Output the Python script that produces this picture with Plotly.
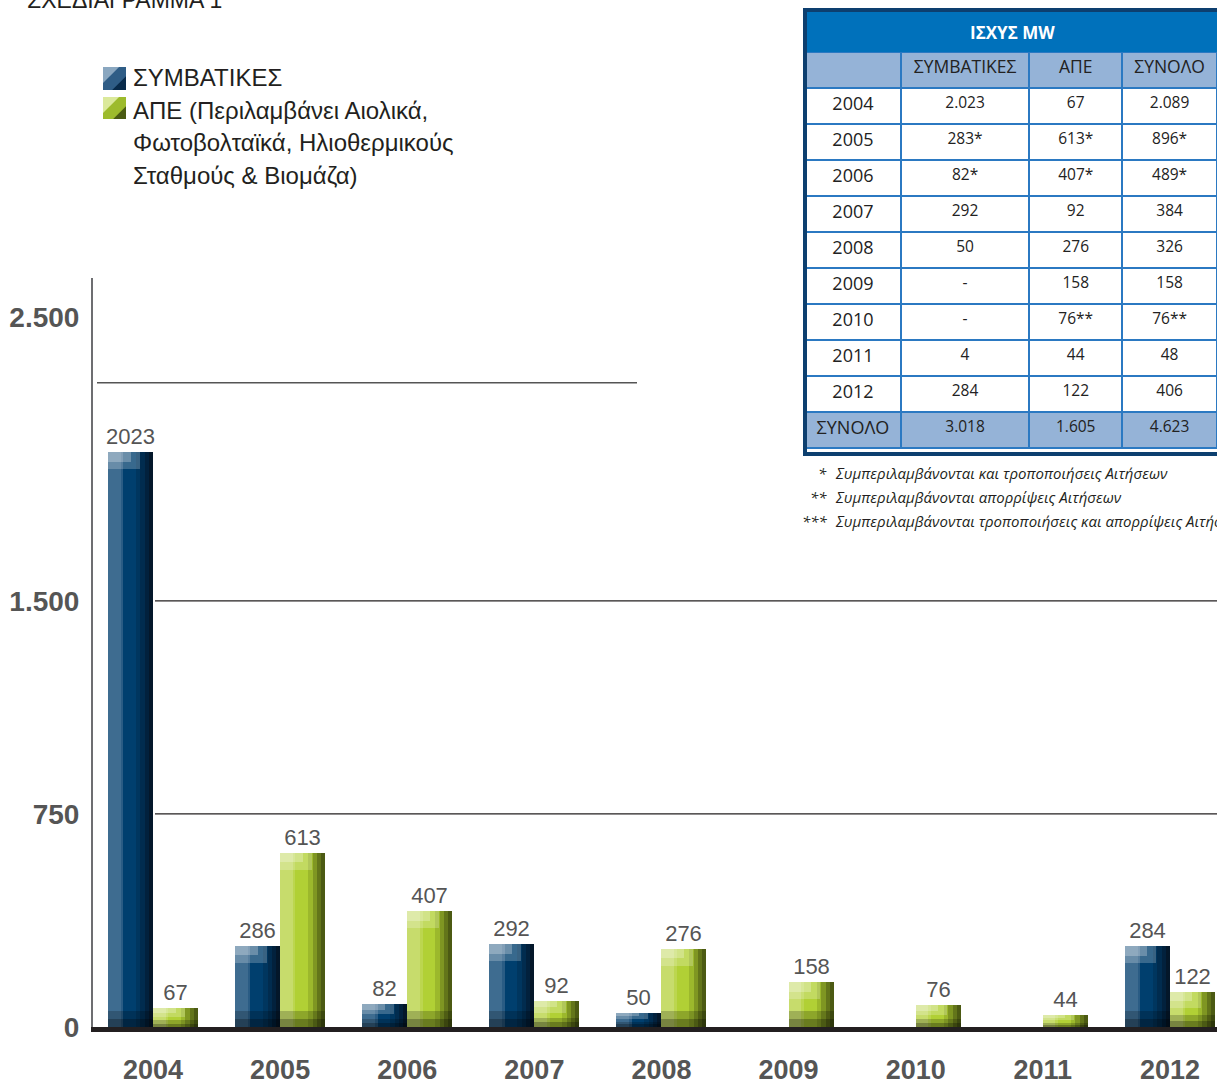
import plotly.graph_objects as go

# ---------------- data ---------------- #
years = ["2004", "2005", "2006", "2007", "2008", "2009", "2010", "2011", "2012"]
conventional = [2023, 286, 82, 292, 50, None, None, None, 284]
renewables = [67, 613, 407, 92, 276, 158, 76, 44, 122]

y_tickvals = [0, 750, 1500, 2500]
y_ticktext = ["0", "750", "1.500", "2.500"]

table_header = ["", "ΣΥΜΒΑΤΙΚΕΣ", "ΑΠΕ", "ΣΥΝΟΛΟ"]
table_years = ["2004", "2005", "2006", "2007", "2008", "2009", "2010", "2011", "2012", "ΣΥΝΟΛΟ"]
table_conv = ["2.023", "283*", "82*", "292", "50", "-", "-", "4", "284", "3.018"]
table_res = ["67", "613*", "407*", "92", "276", "158", "76**", "44", "122", "1.605"]
table_total = ["2.089", "896*", "489*", "384", "326", "158", "76**", "48", "406", "4.623"]

footnotes = [
    ("*", "Συμπεριλαμβάνονται και τροποποιήσεις Αιτήσεων"),
    ("**", "Συμπεριλαμβάνονται απορρίψεις Αιτήσεων"),
    ("***", "Συμπεριλαμβάνονται τροποποιήσεις και απορρίψεις Αιτήσεων"),
]
legend_lines = ["ΣΥΜΒΑΤΙΚΕΣ", "ΑΠΕ (Περιλαμβάνει Αιολικά,",
                "Φωτοβολταϊκά, Ηλιοθερμικούς", "Σταθμούς & Βιομάζα)"]

# ---------------- styling ---------------- #
W, H = 1217, 1083
BAR_W = 0.354
blue_strips = [(0, 0.28, "#3e6c90"), (0.28, 0.34, "#2a5c84"), (0.34, 0.62, "#003f6e"),
               (0.62, 0.72, "#00365f"), (0.72, 0.82, "#012c4f"), (0.82, 0.91, "#02213d"),
               (0.91, 1, "#04172a")]
green_strips = [(0, 0.28, "#c7dc6c"), (0.28, 0.34, "#bcd64f"), (0.34, 0.62, "#b1d035"),
                (0.62, 0.72, "#9cb82c"), (0.72, 0.82, "#7f9622"), (0.82, 0.91, "#63751a"),
                (0.91, 1, "#4c5a13")]


def px(x):
    return x / W


def py(y):
    return 1 - y / H


fig = go.Figure()


def add_series(values, offset, strips):
    for a, b, col in strips:
        fig.add_trace(go.Bar(x=years, y=values, offset=offset + a * BAR_W,
                             width=(b - a) * BAR_W, marker_color=col,
                             marker_line_width=0, hoverinfo="skip", showlegend=False))
    # top highlight (two soft layers)
    for frac, w, alpha in [(0.45, 0.7, 0.22), (0.25, 0.5, 0.25)]:
        hl = [None if v is None else min(60 * frac / 0.45, v * frac) for v in values]
        hl_base = [None if v is None else v - h for v, h in zip(values, hl)]
        fig.add_trace(go.Bar(x=years, y=hl, base=hl_base, offset=offset, width=BAR_W * w,
                             marker_color=f"rgba(255,255,255,{alpha})", marker_line_width=0,
                             hoverinfo="skip", showlegend=False))
    # bottom shadow (two layers, darker at the floor)
    for frac, alpha in [(0.35, 0.2), (0.18, 0.25)]:
        sh = [None if v is None else min(55 * frac / 0.35, v * frac) for v in values]
        fig.add_trace(go.Bar(x=years, y=sh, offset=offset, width=BAR_W,
                             marker_color=f"rgba(0,0,0,{alpha})", marker_line_width=0,
                             hoverinfo="skip", showlegend=False))
    # value labels
    fig.add_trace(go.Bar(x=years, y=values, offset=offset, width=BAR_W,
                         marker_color="rgba(0,0,0,0)", marker_line_width=0,
                         text=[None if v is None else str(v) for v in values],
                         textposition="outside", constraintext="none", cliponaxis=False,
                         textfont=dict(family="Liberation Sans", size=22, color="#555555"),
                         hoverinfo="skip", showlegend=False))


add_series(conventional, -BAR_W, blue_strips)
add_series(renewables, 0, green_strips)

# data table
n = len(table_years)
row_fill = ["white"] * (n - 1) + ["#95b3d7"]
fig.add_trace(go.Table(
    domain=dict(x=[px(805), 1], y=[py(455), py(52)]),
    columnwidth=[97, 130, 94, 96],
    header=dict(values=table_header, height=36, fill_color="#95b3d7",
                line=dict(color="#2b79c2", width=2), align="center",
                font=dict(family="Open Sans", size=17.5, color="#222222")),
    cells=dict(values=[table_years, table_conv, table_res, table_total], height=36,
               fill_color=[row_fill] * 4, line=dict(color="#2b79c2", width=2),
               align="center",
               font=dict(family="Open Sans", color="#222222", size=[18, 15.5, 15.5, 15.5])),
))

shapes = [
    # gridlines
    dict(type="line", xref="paper", yref="y", x0=px(155), x1=1, y0=750, y1=750,
         line=dict(color="#231f20", width=1.2), layer="below"),
    dict(type="line", xref="paper", yref="y", x0=px(155), x1=1, y0=1500, y1=1500,
         line=dict(color="#231f20", width=1.2), layer="below"),
    dict(type="line", xref="paper", yref="y", x0=px(97), x1=px(637), y0=2268, y1=2268,
         line=dict(color="#555555", width=1.5), layer="below"),
    # table title bar and frame
    dict(type="rect", xref="paper", yref="paper", x0=px(805), x1=1.01, y0=py(52), y1=py(11),
         fillcolor="#0071bb", line_width=0),
    dict(type="rect", xref="paper", yref="paper", x0=px(805), x1=1.01, y0=py(454), y1=py(10),
         fillcolor="rgba(0,0,0,0)", line=dict(color="#0d3f6f", width=4)),
]

# legend swatches: dark base with lighter top-left wedges
swatches = [(67, 90, ["#082a4a", "#2f5d86", "#8aa7c0"]),
            (97, 119, ["#4a5a12", "#9dbb2c", "#dbe99b"])]
for y0, y1, cols in swatches:
    shapes.append(dict(type="rect", xref="paper", yref="paper", x0=px(103), x1=px(126),
                       y0=py(y1), y1=py(y0), fillcolor=cols[0], line_width=0))
    for k, c in [(1.4, cols[1]), (0.7, cols[2])]:
        s = (126 - 103) * k
        x_end = min(126, 103 + s)
        y_end = min(y1, y0 + s)
        path = (f"M{px(103)},{py(y0)} L{px(x_end)},{py(y0)} "
                + (f"L{px(126)},{py(y0 + s - 23)} " if s > 23 else "")
                + (f"L{px(103 + s - (y1 - y0))},{py(y1)} " if s > (y1 - y0) else "")
                + f"L{px(103)},{py(y_end)} Z")
        shapes.append(dict(type="path", xref="paper", yref="paper", path=path,
                           fillcolor=c, line_width=0))

annotations = [
    dict(text="ΣΧΕΔΙΑΓΡΑΜΜΑ 1", xref="paper", yref="paper", x=px(25), y=py(0),
         xanchor="left", yanchor="middle", showarrow=False,
         font=dict(family="Liberation Sans", size=23, color="#231f20")),
    dict(text="<b>ΙΣΧΥΣ MW</b>", xref="paper", yref="paper", x=px(1012), y=py(32),
         xanchor="center", yanchor="middle", showarrow=False,
         font=dict(family="Open Sans", size=17, color="white")),
]
for i, line in enumerate(legend_lines):
    annotations.append(dict(text=line, xref="paper", yref="paper", x=px(131),
                            y=py(78 + i * 32.5), xanchor="left", yanchor="middle",
                            showarrow=False,
                            font=dict(family="Liberation Sans", size=24, color="#231f20")))
for i, (star, note) in enumerate(footnotes):
    yy = py(473 + i * 24)
    annotations.append(dict(text=f"<i>{star}</i>", xref="paper", yref="paper", x=px(829), y=yy,
                            xanchor="right", yanchor="middle", showarrow=False,
                            font=dict(family="Open Sans", size=15, color="#231f20")))
    annotations.append(dict(text=f"<i>{note}</i>", xref="paper", yref="paper", x=px(833), y=yy,
                            xanchor="left", yanchor="middle", showarrow=False,
                            font=dict(family="Open Sans", size=15, color="#231f20")))

fig.update_layout(
    width=W, height=H,
    margin=dict(l=0, r=0, t=0, b=0, autoexpand=False),
    paper_bgcolor="white", plot_bgcolor="white",
    barmode="overlay", bargap=0,
    showlegend=False,
    xaxis=dict(domain=[px(93), 1], type="category", range=[-0.472, 8.37],
               showline=True, linecolor="#231f20", linewidth=5, showgrid=False,
               ticks="", ticklabelstandoff=15, automargin=False,
               tickfont=dict(family="Liberation Sans", size=27, color="#555555", weight=700)),
    yaxis=dict(domain=[1 - 1027 / H, 1 - 278 / H], range=[0, 2637],
               showline=True, linecolor="#6d6e71", linewidth=2, showgrid=False,
               zeroline=False, tickvals=y_tickvals, ticktext=y_ticktext, ticks="",
               ticklabelstandoff=6, automargin=False,
               tickfont=dict(family="Liberation Sans", size=28, color="#555555", weight=700)),
    shapes=shapes,
    annotations=annotations,
)

fig.write_html("out.html", config={"displayModeBar": False},
               post_script="document.body.style.margin='0';document.body.style.overflow='hidden';")
